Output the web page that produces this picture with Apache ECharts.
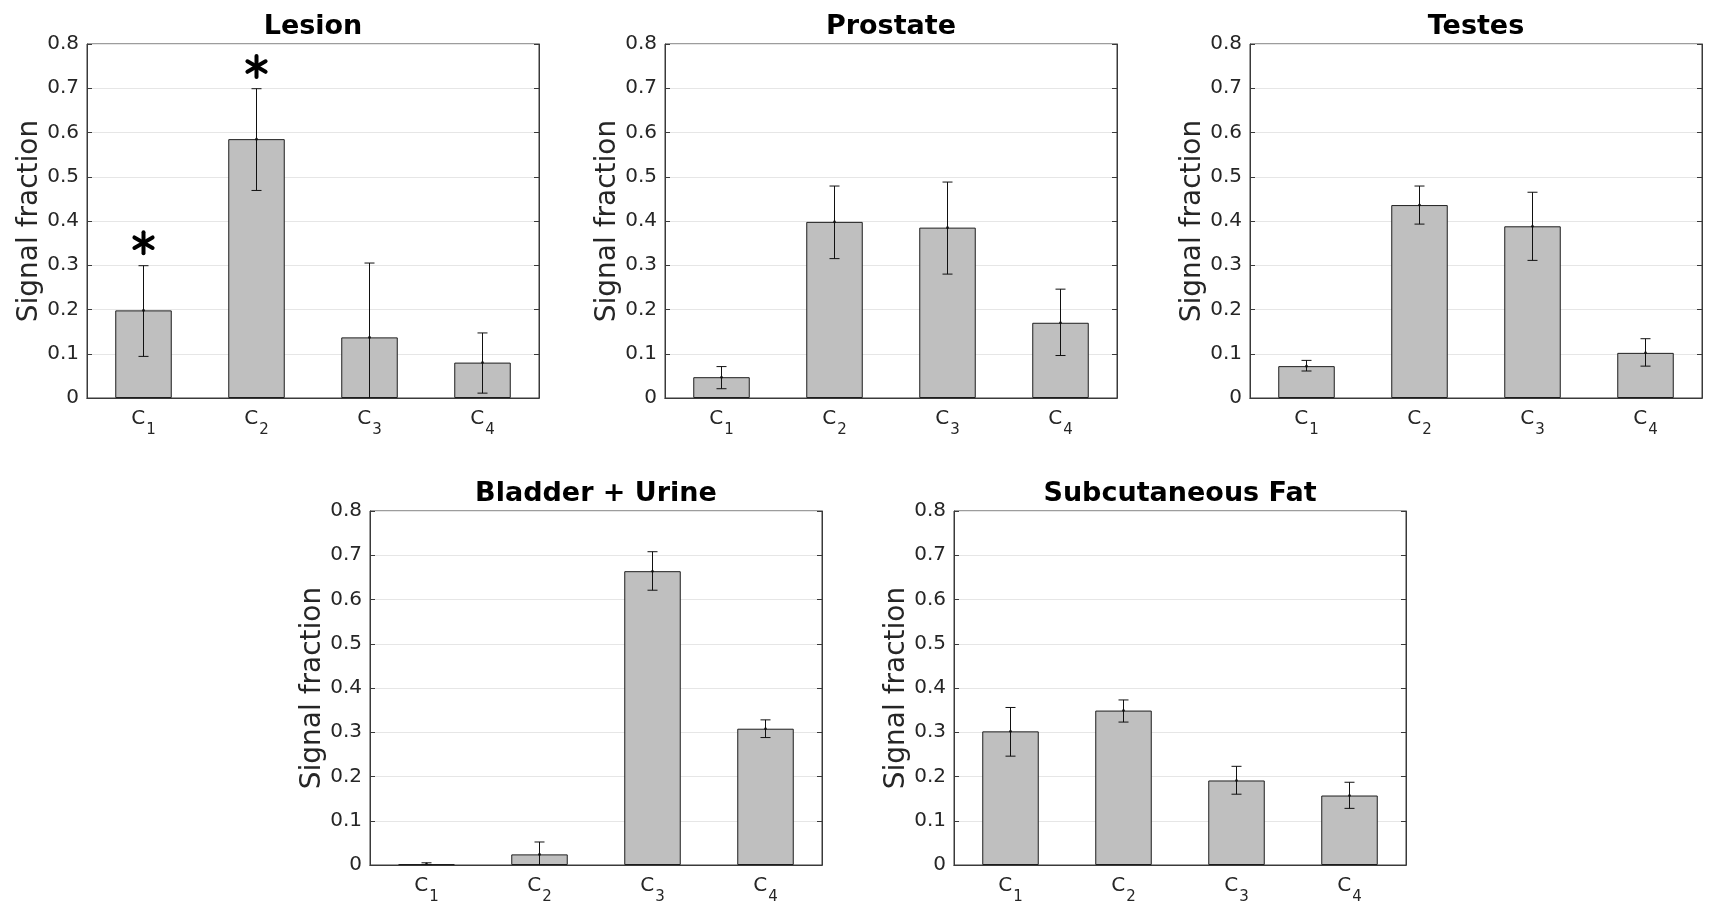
<!DOCTYPE html>
<html>
<head>
<meta charset="utf-8">
<script src="https://cdn.jsdelivr.net/npm/echarts@6/dist/echarts.min.js"></script>
<style>
html,body{margin:0;padding:0;background:#fff;}
#chart{width:1724px;height:918px;}
</style>
</head>
<body>
<div id="chart"></div>
<script>
// ---- data ----
const categories = ['1', '2', '3', '4'];           // C subscripts
const panelTitles = ['Lesion', 'Prostate', 'Testes', 'Bladder + Urine', 'Subcutaneous Fat'];
const yTicks = [0, 0.1, 0.2, 0.3, 0.4, 0.5, 0.6, 0.7, 0.8];

const lesionMean  = [0.198, 0.585, 0.137, 0.080];
const lesionUpper = [0.299, 0.699, 0.305, 0.147];
const lesionLower = [0.094, 0.469, -0.031, 0.011];

const prostateMean  = [0.047, 0.398, 0.385, 0.170];
const prostateUpper = [0.071, 0.479, 0.488, 0.246];
const prostateLower = [0.021, 0.315, 0.280, 0.096];

const testesMean  = [0.072, 0.436, 0.388, 0.102];
const testesUpper = [0.085, 0.479, 0.465, 0.134];
const testesLower = [0.061, 0.393, 0.311, 0.072];

const bladderMean  = [0.002, 0.024, 0.664, 0.308];
const bladderUpper = [0.005, 0.052, 0.708, 0.328];
const bladderLower = [0.000, -0.003, 0.621, 0.288];

const fatMean  = [0.302, 0.349, 0.191, 0.157];
const fatUpper = [0.356, 0.373, 0.223, 0.187];
const fatLower = [0.246, 0.323, 0.160, 0.128];

// significance asterisks on the Lesion panel (category index, y value)
const lesionStarCats = [0, 1];
const lesionStarY = [0.351, 0.749];

// ---- layout ----
const layout = [
  {left: 87,   top: 44,  width: 452, height: 354},
  {left: 665,  top: 44,  width: 452, height: 354},
  {left: 1250, top: 44,  width: 452, height: 354},
  {left: 370,  top: 511, width: 452, height: 354},
  {left: 954,  top: 511, width: 452, height: 354}
];
const panelData = [
  [lesionMean, lesionUpper, lesionLower],
  [prostateMean, prostateUpper, prostateLower],
  [testesMean, testesUpper, testesLower],
  [bladderMean, bladderUpper, bladderLower],
  [fatMean, fatUpper, fatLower]
];

const FONT = 'DejaVu Sans';
const AXC = '#262626';
const BOXC = '#3a3a3a';

const grids = [], xAxes = [], yAxes = [], series = [], titles = [];

layout.forEach((g, i) => {
  grids.push({left: g.left, top: g.top, width: g.width, height: g.height,
    show: true, borderColor: BOXC, borderWidth: 1, backgroundColor: '#fff'});
  titles.push({
    text: panelTitles[i], left: g.left + g.width / 2, top: g.top - 31,
    textAlign: 'center', padding: 0,
    textStyle: {fontFamily: FONT, fontSize: 27, fontWeight: 'bold', color: '#000'}
  });
  // bottom x
  xAxes.push({
    gridIndex: i, type: 'category', data: categories, position: 'bottom',
    axisLine: {lineStyle: {color: BOXC, width: 1}},
    axisTick: {inside: true, alignWithLabel: true, length: 5, lineStyle: {color: BOXC}},
    axisLabel: {
      margin: 11,
      formatter: v => '{c|C}{s|' + v + '}',
      rich: {
        c: {fontFamily: FONT, fontSize: 20, color: AXC, lineHeight: 22, verticalAlign: 'top'},
        s: {fontFamily: FONT, fontSize: 15, color: AXC, lineHeight: 22, verticalAlign: 'top', padding: [14, 0, 0, 1]}
      }
    },
    splitLine: {show: false}
  });
  // top x (mirror ticks)
  xAxes.push({
    gridIndex: i, type: 'category', data: categories, position: 'top',
    axisLine: {lineStyle: {color: BOXC, width: 1}},
    axisTick: {inside: true, alignWithLabel: true, length: 5, lineStyle: {color: BOXC}},
    axisLabel: {show: false}, splitLine: {show: false}
  });
  yAxes.push({
    gridIndex: i, type: 'value', min: 0, max: 0.8, interval: 0.1, position: 'left',
    name: 'Signal fraction', nameLocation: 'middle', nameGap: 43,
    nameTextStyle: {fontFamily: FONT, fontSize: 28, color: AXC},
    axisLine: {show: true, lineStyle: {color: BOXC, width: 1}},
    axisTick: {show: true, inside: true, length: 5, lineStyle: {color: BOXC}},
    axisLabel: {fontFamily: FONT, fontSize: 20, color: AXC, margin: 8,
      formatter: v => String(Math.round(v * 10) / 10)},
    splitLine: {show: true, lineStyle: {color: '#e6e6e6', width: 1}}
  });
  yAxes.push({
    gridIndex: i, type: 'value', min: 0, max: 0.8, interval: 0.1, position: 'right',
    axisLine: {show: true, lineStyle: {color: BOXC, width: 1}},
    axisTick: {show: true, inside: true, length: 5, lineStyle: {color: BOXC}},
    axisLabel: {show: false}, splitLine: {show: false}
  });

  const [mean, upper, lower] = panelData[i];
  series.push({
    type: 'bar', xAxisIndex: 2 * i, yAxisIndex: 2 * i, barWidth: '50%',
    data: mean, z: 2,
    itemStyle: {color: '#bfbfbf', borderColor: '#1e1e1e', borderWidth: 1},
    silent: true, animation: false
  });
  series.push({
    type: 'custom', xAxisIndex: 2 * i, yAxisIndex: 2 * i, clip: true, animation: false,
    z: 10,
    data: mean.map((m, k) => [k, m, lower[k], upper[k]]),
    renderItem: (params, api) => {
      const c = api.coord([api.value(0), api.value(1)]);
      const lo = api.coord([api.value(0), api.value(2)]);
      const hi = api.coord([api.value(0), api.value(3)]);
      const cap = 5;
      const st = {stroke: '#111', lineWidth: 1};
      return {type: 'group', children: [
        {type: 'line', shape: {x1: c[0], y1: lo[1], x2: c[0], y2: hi[1]}, style: st},
        {type: 'line', shape: {x1: c[0] - cap, y1: hi[1], x2: c[0] + cap, y2: hi[1]}, style: st},
        {type: 'line', shape: {x1: c[0] - cap, y1: lo[1], x2: c[0] + cap, y2: lo[1]}, style: st},
        {type: 'circle', shape: {cx: c[0], cy: c[1], r: 1.3}, style: {fill: '#111'}}
      ]};
    }
  });
});

// asterisks on Lesion
series.push({
  type: 'custom', xAxisIndex: 0, yAxisIndex: 0, animation: false, clip: false, z: 10,
  data: lesionStarCats.map((c, k) => [c, lesionStarY[k]]),
  renderItem: (params, api) => {
    const p = api.coord([api.value(0), api.value(1)]);
    const r = 10.5;
    const children = [];
    [90, 30, 150].forEach(a => {
      const rad = a * Math.PI / 180;
      const dx = r * Math.cos(rad), dy = r * Math.sin(rad);
      children.push({type: 'line', shape: {x1: p[0] - dx, y1: p[1] - dy, x2: p[0] + dx, y2: p[1] + dy},
        style: {stroke: '#000', lineWidth: 4, lineCap: 'round'}});
    });
    return {type: 'group', children};
  }
});

const chart = echarts.init(document.getElementById('chart'), null, {renderer: 'canvas'});
chart.setOption({
  animation: false,
  backgroundColor: '#fff',
  title: titles,
  grid: grids,
  xAxis: xAxes,
  yAxis: yAxes,
  series: series
});
</script>
</body>
</html>
